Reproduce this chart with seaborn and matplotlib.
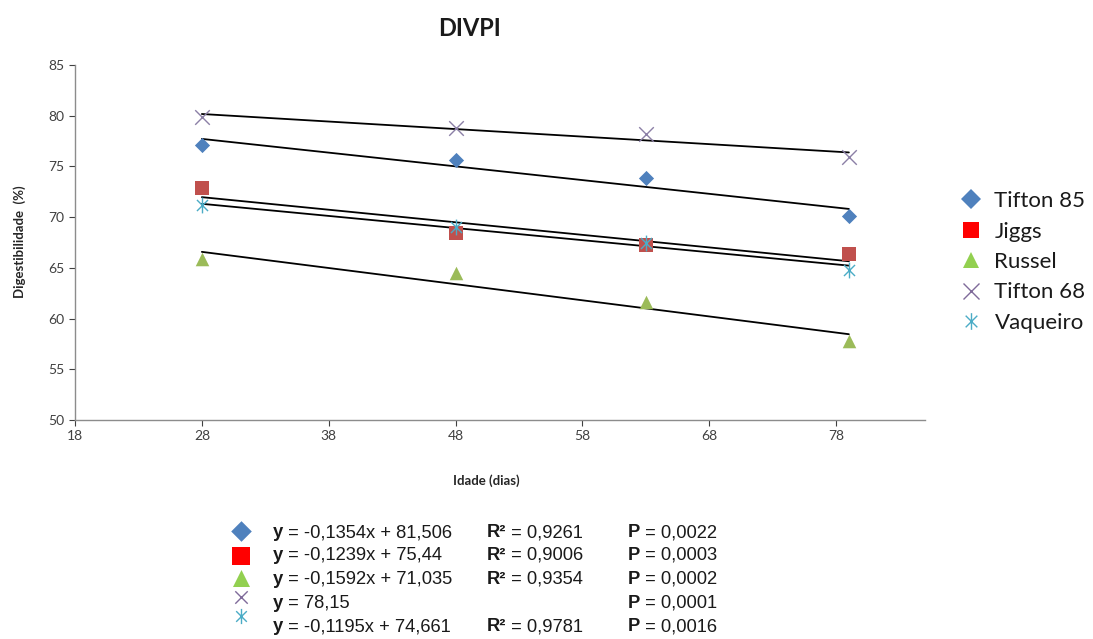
import numpy as np
import pandas as pd
import matplotlib
matplotlib.use("Agg")
import matplotlib.pyplot as plt
from matplotlib.path import Path
from matplotlib.lines import Line2D
import seaborn as sns

# ---------------- data ----------------
idade = [28, 48, 63, 79]
cultivares = ["Tifton 85", "Jiggs", "Russel", "Tifton 68", "Vaqueiro"]
tifton85 = [77.1, 75.6, 73.9, 70.1]
jiggs = [72.9, 68.4, 67.3, 66.4]
russel = [65.9, 64.5, 61.6, 57.8]
tifton68 = [79.9, 78.8, 78.2, 75.9]
vaqueiro = [71.2, 69.0, 67.5, 64.8]

# regression coefficients (Tifton 68 line is fitted from its points)
slopes = [-0.1354, -0.1239, -0.1592, None, -0.1195]
intercepts = [81.506, 75.44, 71.035, None, 74.661]

eq_text = ["-0,1354x + 81,506", "-0,1239x + 75,44", "-0,1592x + 71,035",
           "78,15", "-0,1195x + 74,661"]
r2_text = ["0,9261", "0,9006", "0,9354", "", "0,9781"]
p_text = ["0,0022", "0,0003", "0,0002", "0,0001", "0,0016"]

series = [tifton85, jiggs, russel, tifton68, vaqueiro]

# ---------------- style ----------------
sns.set_theme(style="white")
plt.rcParams["font.family"] = ["Lato", "DejaVu Sans"]

# asterisk marker: x plus vertical line
star = Path([(-0.7, -0.7), (0.7, 0.7), (-0.7, 0.7), (0.7, -0.7), (0, -1), (0, 1)],
            [Path.MOVETO, Path.LINETO, Path.MOVETO, Path.LINETO, Path.MOVETO, Path.LINETO])

colors = ["#4F81BD", "#C0504D", "#9BBB59", "#8B7FA6", "#4BACC6"]
leg_colors = ["#4F81BD", "#FF0000", "#92D050", "#7F6A9A", "#4BACC6"]
markers = ["D", "s", "^", "x", star]
msizes = [60, 110, 95, 110, 130]
lws = [0, 0, 0, 1.0, 1.0]

W, H = 1093, 639
fig = plt.figure(figsize=(W / 100, H / 100), dpi=100)
fx = lambda px: px / W
fy = lambda py: 1 - py / H

ax = fig.add_axes([fx(75), fy(420), fx(925) - fx(75), fy(65) - fy(420)])

for name, vals, c, m, s, lw in zip(cultivares, series, colors, markers, msizes, lws):
    df = pd.DataFrame({"x": idade, "y": vals})
    sns.scatterplot(data=df, x="x", y="y", marker=m, color=c, s=s,
                    linewidth=lw, edgecolor=c, ax=ax, zorder=3)

# trend lines
for vals, a, b in zip(series, slopes, intercepts):
    if a is None:
        a, b = np.polyfit(idade, vals, 1)
    xs = np.array([idade[0], idade[-1]])
    sns.lineplot(x=xs, y=a * xs + b, color="black", linewidth=1.3, ax=ax,
                 zorder=2)

ax.set_xlim(18, 85)
ax.set_ylim(50, 85)
ax.set_xticks(np.arange(18, 79, 10))
ax.set_yticks(np.arange(50, 86, 5))
ax.tick_params(axis="both", labelsize=10, colors="#404040", length=4,
               width=0.8, direction="out", left=True, bottom=True)
for sp in ["top", "right"]:
    ax.spines[sp].set_visible(False)
for sp in ["left", "bottom"]:
    ax.spines[sp].set_color("#8C8C8C")
    ax.spines[sp].set_linewidth(1.0)
ax.set_xlabel("")
ax.set_ylabel("")

fig.text(fx(486), fy(481), "Idade (dias)", ha="center", va="center",
         fontsize=9.5, fontweight="bold", color="#262626")
fig.text(fx(20), fy(242), "Digestibilidade  (%)", ha="center", va="center",
         rotation=90, fontsize=9.5, fontweight="bold", color="#262626")
fig.text(fx(470), fy(28), "DIVPI", ha="center", va="center",
         fontsize=17, fontweight="bold", color="#1a1a1a")

# legend
handles = []
for name, c, m, lw in zip(cultivares, leg_colors, markers, lws):
    handles.append(Line2D([], [], linestyle="none", marker=m, color=c,
                          markerfacecolor=c, markeredgecolor=c,
                          markersize=12 if m != "D" else 10,
                          markeredgewidth=lw if lw else 0))
fig.legend(handles, cultivares, loc="upper left",
           bbox_to_anchor=(fx(950), fy(180)), frameon=False, fontsize=16,
           handlelength=0.9, handletextpad=0.6, labelspacing=0.47,
           borderpad=0, labelcolor="#1a1a1a")

# equations block
bx = fig.add_axes([0, 0, 1, 1], zorder=5)
bx.set_xlim(0, W)
bx.set_ylim(H, 0)
bx.axis("off")
mark_y = [531, 556, 578, 597, 616]
base_y = [537, 560, 584, 608, 631]
eq_sizes = [110, 170, 150, 80, 120]
fs = 13.2
fam = "Liberation Sans"


def rich(x, y, bold, rest):
    t = bx.text(x, y, bold, fontsize=fs, fontweight="bold", va="baseline",
                ha="left", color="#1a1a1a", family=fam)
    bx.annotate(rest, xy=(1, y), xycoords=(t, "data"), fontsize=fs,
                va="baseline", ha="left", color="#1a1a1a", family=fam)


for i in range(5):
    m = markers[i]
    sns.scatterplot(x=[241], y=[mark_y[i]], marker=m, color=leg_colors[i],
                    s=eq_sizes[i], linewidth=lws[i], edgecolor=leg_colors[i],
                    ax=bx, legend=False)
    rich(273, base_y[i], "y", " = " + eq_text[i])
    if r2_text[i]:
        rich(487, base_y[i], "R²", " = " + r2_text[i])
    rich(628, base_y[i], "P", " = " + p_text[i])

fig.savefig("out.png", dpi=100)
